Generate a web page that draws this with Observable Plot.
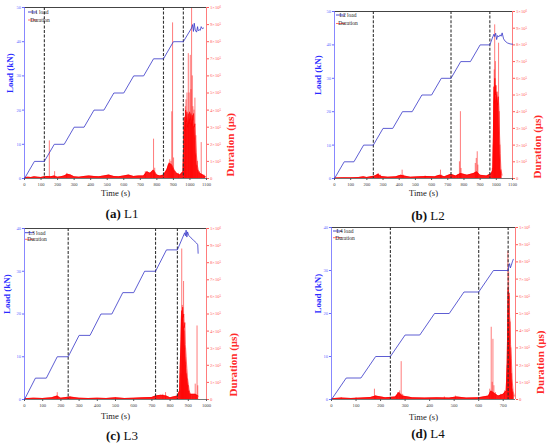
<!DOCTYPE html>
<html><head><meta charset="utf-8">
<script src="https://cdn.jsdelivr.net/npm/d3@7"></script>
<script src="https://cdn.jsdelivr.net/npm/@observablehq/plot@0.6"></script>
<style>
body{margin:0;width:550px;height:446px;position:relative;background:#fff;overflow:hidden;font-family:"Liberation Serif",serif}
svg.pl{position:absolute}
.cap{position:absolute;font-size:13px;line-height:15px;transform:translateX(-50%);white-space:nowrap;color:#111}
</style></head><body>
<script>
// ---------- DATA ----------
// Duration values are in units of 1e5 μs
const xTicks1100 = [0,100,200,300,400,500,600,700,800,900,1000,1100];
const xTicks1000 = [0,100,200,300,400,500,600,700,800,900,1000];
const xTicks700 = [0,100,200,300,400,500,600,700];
const loadTicks50 = [0,10,20,30,40,50];
const loadTicks40 = [0,10,20,30,40];
const durTicks = [0,1,2,3,4,5,6,7,8,9,10];
const durTickLabels = ["0","1×10⁵","2×10⁵","3×10⁵","4×10⁵","5×10⁵","6×10⁵","7×10⁵","8×10⁵","9×10⁵","1×10⁶"];

const loadA = [[0,0],[60,5],[120,5],[180,10],[240,10],[300,15],[360,15],[420,20],[480,20],[540,25],[600,25],[660,30],[720,30],[780,35],[840,35],[900,40],[960,40],[1010,44],[1016,45],[1021,43],[1026,45.4],[1032,43.4],[1040,42.8],[1046,44.4],[1050,43.2],[1056,43.5],[1062,43.3],[1068,44.4],[1075,43.8],[1082,44]];
const baseA = [[0,0.05],[20,0.08],[40,0.06],[60,0.1],[80,0.08],[100,0.06],[120,0.1],[140,0.12],[160,0.1],[180,0.15],[200,0.08],[220,0.1],[240,0.15],[260,0.25],[280,0.2],[300,0.1],[330,0.08],[360,0.12],[390,0.15],[420,0.12],[450,0.1],[480,0.15],[510,0.2],[540,0.12],[570,0.1],[600,0.15],[630,0.2],[660,0.12],[690,0.15],[720,0.15],[740,0.4],[760,0.3],[780,0.5],[800,0.2],[820,0.15],[840,0.2],[860,0.5],[875,0.9],[890,0.8],[905,0.5],[920,0.3],[940,0.2],[958,0.4],[962,2.0],[966,3.6],[970,2.8],[974,4.0],[978,3.3],[982,3.9],[986,3.0],[990,3.8],[994,3.2],[998,3.9],[1002,3.4],[1006,3.8],[1010,3.1],[1014,3.7],[1018,3.4],[1022,3.8],[1026,3.0],[1030,3.2],[1034,2.2],[1038,1.5],[1044,0.8],[1050,0.5],[1060,0.3],[1080,0.2],[1095,0.1]];
const spikesA = [[150,2.2],[182,0.4],[255,0.3],[730,0.4],[765,0.3],[780,2.3],[787,0.6],[868,0.8],[878,1.1],[885,1.0],[890,3.9],[895,9.1],[901,1.2],[930,0.3],[968,1.0],[972,4.2],[976,4.6],[982,5.0],[990,7.3],[995,5.0],[1002,7.2],[1006,5.2],[1010,10],[1014,6.0],[1018,4.2],[1024,4.0],[1030,4.7],[1036,2.5],[1045,1.0],[1055,0.4],[1068,2.1],[1085,0.2]];
const dashesA = [120,840,960];

const loadB = [[0,0],[60,5],[120,5],[180,10],[240,10],[300,15],[360,15],[420,20],[480,20],[540,25],[600,25],[660,30],[720,30],[780,35],[840,35],[900,40],[960,40],[975,42],[985,43.2],[990,42.5],[996,43.5],[1002,41.6],[1008,42.8],[1015,42.4],[1024,43],[1030,42.6],[1036,43.6],[1045,41.8],[1055,41.1],[1068,40.6],[1085,40.3],[1100,40.2]];
const baseB = [[0,0.03],[50,0.05],[100,0.04],[150,0.06],[180,0.1],[200,0.06],[250,0.15],[270,0.25],[290,0.12],[330,0.08],[380,0.1],[410,0.2],[430,0.15],[470,0.08],[520,0.1],[570,0.12],[620,0.1],[650,0.2],[680,0.1],[720,0.25],[750,0.15],[780,0.3],[820,0.2],[860,0.3],[880,0.4],[900,0.2],[940,0.15],[970,0.3],[978,0.5],[982,2.5],[985,5.5],[988,4.5],[991,6.0],[994,5.0],[997,5.6],[1000,4.6],[1004,5.2],[1008,4.4],[1012,4.9],[1016,4.2],[1020,2.6],[1024,1.5],[1028,0.6],[1035,0.2]];
const spikesB = [[270,0.3],[285,0.2],[418,0.5],[425,0.2],[560,0.15],[655,0.5],[660,0.2],[725,0.2],[740,0.15],[760,0.2],[772,1.0],[778,4.0],[782,0.6],[870,0.9],[876,1.2],[882,1.6],[886,0.8],[975,0.6],[982,2.0],[987,6.5],[990,9.2],[994,7.0],[998,5.5],[1003,5.0],[1008,4.5],[1014,8.1],[1018,4.0],[1022,2.0],[1028,0.5]];
const dashesB = [240,720,960];

const loadC = [[0,0],[60,5],[120,5],[180,10],[240,10],[300,15],[360,15],[420,20],[480,20],[540,25],[600,25],[660,30],[720,30],[780,35],[840,35],[870,38],[880,39],[884,38.3],[888,39.6],[892,38],[896,39.2],[902,38.4],[915,37.8],[930,37.2],[945,36.6],[952,36.2],[954,34.2]];
const baseC = [[0,0.05],[50,0.08],[100,0.06],[150,0.1],[180,0.2],[200,0.08],[250,0.15],[300,0.08],[350,0.06],[400,0.08],[450,0.06],[500,0.1],[550,0.06],[600,0.08],[650,0.1],[700,0.12],[720,0.2],[750,0.25],[780,0.2],[800,0.1],[840,0.2],[852,0.5],[856,2.0],[860,3.5],[863,5.2],[866,4.6],[869,5.4],[872,4.8],[875,5.0],[878,4.2],[881,4.5],[884,3.2],[888,2.5],[892,1.8],[896,1.2],[900,0.9],[905,0.5],[912,0.3],[925,0.3],[940,0.3],[955,0.2]];
const spikesC = [[180,0.4],[250,0.15],[500,0.1],[720,0.2],[760,0.3],[775,0.4],[855,0.5],[860,1.5],[864,8.8],[867,5.5],[870,4.5],[874,6.9],[877,4.0],[881,3.0],[885,2.0],[890,1.5],[895,1.2],[900,0.8],[905,0.5],[912,0.3],[925,0.2],[938,0.9],[948,4.3],[952,0.8]];
const dashesC = [240,720,840];

const loadD = [[0,0],[60,5],[120,5],[180,10],[240,10],[300,15],[360,15],[420,20],[480,20],[540,25],[600,25],[660,30],[720,30],[722,30.8],[726,31.6],[729,30.6],[733,31.2],[737,32],[741,32.6]];
const baseD = [[0,0.05],[40,0.08],[80,0.06],[120,0.08],[160,0.12],[180,0.2],[220,0.1],[260,0.15],[275,0.4],[290,0.2],[330,0.1],[380,0.08],[430,0.1],[480,0.08],[510,0.15],[550,0.08],[600,0.1],[640,0.2],[650,0.5],[660,0.4],[680,0.2],[700,0.3],[712,0.5],[716,2.0],[718,4.0],[720,6.5],[722,5.8],[724,6.2],[726,4.8],[728,4.5],[730,3.2],[733,2.4],[736,1.2],[740,0.5],[745,0.2]];
const spikesD = [[40,0.1],[100,0.1],[175,0.6],[180,0.2],[265,0.2],[270,0.4],[278,0.5],[284,2.2],[290,0.3],[300,0.1],[460,0.15],[505,0.2],[645,0.6],[651,4.2],[655,1.0],[658,3.5],[662,0.8],[668,0.4],[690,0.3],[705,0.5],[716,2.0],[719,8.6],[722,7.4],[725,6.0],[728,4.5],[731,3.0],[734,1.5],[737,0.6]];
const dashesD = [240,600,720];

const panels = [
  {tag:"(a)", name:"L1", xmax:1100, xticks:xTicks1100, ymax:50, yticks:loadTicks50, load:loadA, base:baseA, spikes:spikesA, dashes:dashesA},
  {tag:"(b)", name:"L2", xmax:1100, xticks:xTicks1100, ymax:50, yticks:loadTicks50, load:loadB, base:baseB, spikes:spikesB, dashes:dashesB},
  {tag:"(c)", name:"L3", xmax:1000, xticks:xTicks1000, ymax:40, yticks:loadTicks40, load:loadC, base:baseC, spikes:spikesC, dashes:dashesC},
  {tag:"(d)", name:"L4", xmax:750, xticks:xTicks700, ymax:40, yticks:loadTicks40, load:loadD, base:baseD, spikes:spikesD, dashes:dashesD}
];

// ---------- LAYOUT ----------
const layouts = [
  {left:0, top:0, W:275, H:200, x0:24, x1:206, y0:7, y1:178, timeDy:15, loadDx:14, durDx:24, durDy:20, leg:[28,12,20], cap:[122,213]},
  {left:275, top:0, W:275, H:200, x0:334, x1:512, y0:11, y1:178, timeDy:15, loadDx:16, durDx:25, durDy:20, leg:[336,15,23.5], cap:[428,215]},
  {left:0, top:220, W:275, H:200, x0:24, x1:206, y0:228, y1:399, timeDy:16.7, loadDx:17, durDx:27, durDy:19, leg:[25,232.7,239.3], cap:[122,435]},
  {left:275, top:220, W:275, H:200, x0:331, x1:515, y0:227, y1:399, timeDy:17.7, loadDx:13, durDx:25, durDy:17, leg:[333,231,237.7], cap:[428,433]}
];

const BLUE = "#3535c8", BLUE_T = "#6a6aff", RED = "#ff0000", RED_T = "#ff5a5a";
const FONT = "'Liberation Serif', serif";

panels.forEach((P, i) => {
  const L = layouts[i];
  const common = {
    width: L.W, height: L.H,
    marginLeft: L.x0 - L.left, marginRight: L.left + L.W - L.x1,
    marginTop: L.y0 - L.top, marginBottom: L.top + L.H - L.y1,
    style: {background: "transparent", fontFamily: FONT, overflow: "visible"}
  };
  const dur = Plot.plot({
    ...common,
    x: {domain: [0, P.xmax], axis: null},
    y: {domain: [0, 10], axis: null},
    marks: [
      Plot.areaY(P.base, {x: d => d[0], y: d => d[1], fill: RED, fillOpacity: 0.9}),
      Plot.line(P.base, {x: d => d[0], y: d => d[1], stroke: RED, strokeWidth: 0.6}),
      Plot.ruleX(P.spikes, {x: d => d[0], y1: 0, y2: d => d[1], stroke: RED, strokeWidth: 0.7, strokeOpacity: 0.75}),
      Plot.axisY({anchor: "right", ticks: durTicks, tickFormat: d => durTickLabels[durTicks.indexOf(d)], tickSize: 2, tickPadding: 1.5, fontSize: 4.6, stroke: RED_T, fill: RED_T, label: null}),
      Plot.ruleX([P.xmax], {stroke: RED_T, strokeWidth: 0.8}),
      Plot.text(["Duration (μs)"], {frameAnchor: "right", lineAnchor: "middle", dx: L.durDx, dy: L.durDy, rotate: -90, fill: "#ff2a2a", fontWeight: "bold", fontSize: 11, fontFamily: FONT})
    ]
  });
  const load = Plot.plot({
    ...common,
    x: {domain: [0, P.xmax]},
    y: {domain: [0, P.ymax]},
    marks: [
      Plot.axisX({ticks: P.xticks, tickFormat: d => String(d), tickSize: 2, tickPadding: 2.5, fontSize: 4.6, stroke: "#555", fill: "#444", label: null}),
      Plot.axisY({ticks: P.yticks, tickFormat: d => String(d), tickSize: 2, tickPadding: 1.5, fontSize: 4.6, stroke: BLUE_T, fill: BLUE_T, label: null}),
      Plot.ruleY([0], {stroke: "#555", strokeWidth: 0.8}),
      Plot.ruleY([P.ymax], {stroke: "#444", strokeWidth: 1}),
      Plot.ruleX([0], {stroke: BLUE_T, strokeWidth: 0.8}),
      Plot.ruleX(P.dashes, {stroke: "#333", strokeWidth: 1.1, strokeDasharray: "3,1.6"}),
      Plot.line(P.load, {x: d => d[0], y: d => d[1], stroke: BLUE, strokeWidth: 0.8}),
      Plot.text(["Time (s)"], {frameAnchor: "bottom", lineAnchor: "middle", dy: L.timeDy, fontSize: 8.6, fill: "#222", fontFamily: FONT}),
      Plot.text(["Load (kN)"], {frameAnchor: "left", lineAnchor: "middle", dx: -L.loadDx, rotate: -90, fill: "#2a2aff", fontWeight: "bold", fontSize: 9, fontFamily: FONT})
    ]
  });
  [dur, load].forEach(s => {
    s.classList.add("pl");
    s.style.left = L.left + "px";
    s.style.top = L.top + "px";
    document.body.appendChild(s);
  });
  // legend
  const g = d3.select(load).append("g").attr("font-family", FONT).attr("font-size", 5.5);
  const lx = L.leg[0] - L.left;
  const entries = [[P.name + " load", BLUE, L.leg[1]], ["Duration", "#ff6060", L.leg[2]]];
  entries.forEach(([label, col, yy]) => {
    const y = yy - L.top;
    g.append("line").attr("x1", lx).attr("x2", lx + 9).attr("y1", y).attr("y2", y).attr("stroke", col).attr("stroke-width", 0.9);
    g.append("text").attr("x", lx + 12).attr("y", y).attr("dy", "0.35em").attr("fill", "#222").text(label);
  });
  // caption
  const cap = document.createElement("div");
  cap.className = "cap";
  cap.style.left = L.cap[0] + "px";
  cap.style.top = (L.cap[1] - 7.5) + "px";
  cap.innerHTML = "<b>" + P.tag + "</b> " + P.name;
  document.body.appendChild(cap);
});
</script></body></html>
